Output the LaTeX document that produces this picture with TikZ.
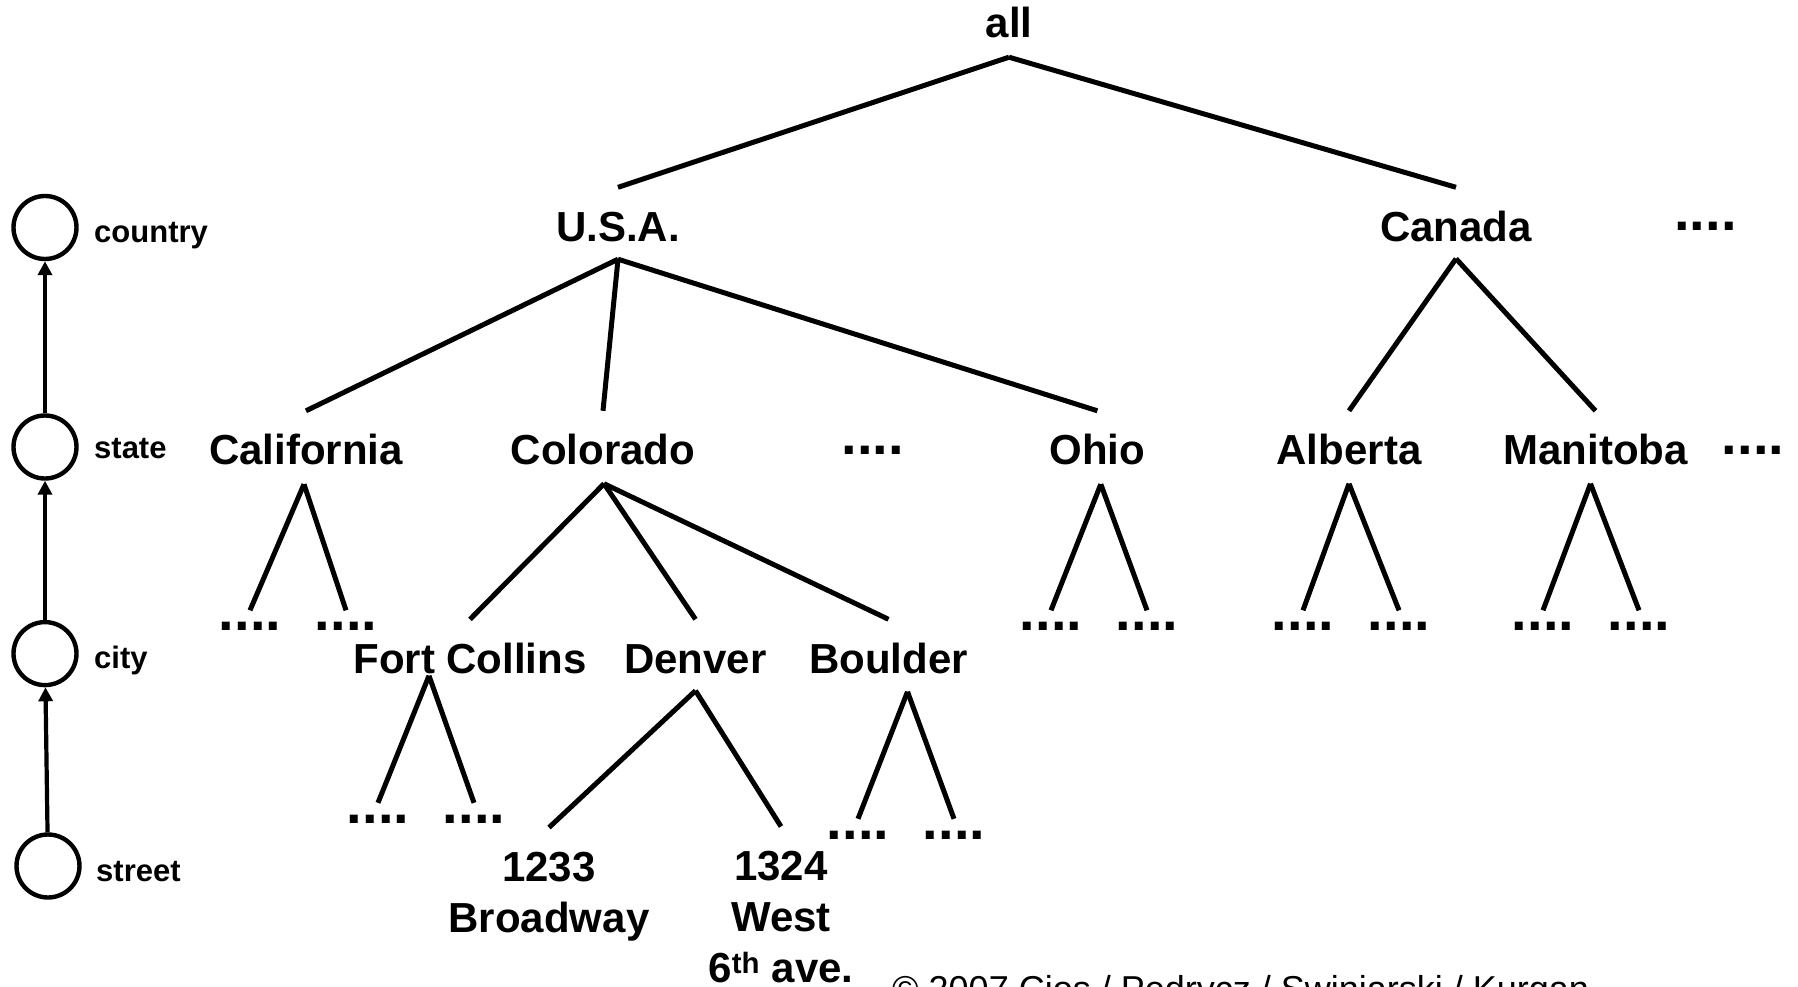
\documentclass[tikz,border=0pt]{standalone}
\usepackage{fontspec}
\setmainfont{Liberation Sans}
\usetikzlibrary{arrows.meta}

\newcommand{\lblfont}{\fontsize{42}{51}\selectfont\bfseries}
\newcommand{\tagfont}{\fontsize{31}{36}\selectfont\bfseries}
\newcommand{\dotfont}{\fontsize{56}{60}\selectfont\bfseries}
\newcommand{\notefont}{\fontsize{36}{40}\selectfont}

\begin{document}
\begin{tikzpicture}[x=1pt,y=-1pt,
  lbl/.style={font=\lblfont, inner sep=0pt, text height=30pt, text depth=0pt},
  addr/.style={font=\lblfont, inner sep=0pt, text height=30pt, anchor=north},
  more/.style={font=\dotfont, inner sep=0pt, text height=8pt, text depth=0pt},
  tag/.style={font=\tagfont, inner sep=0pt, anchor=base west},
  lvl/.style={draw, circle, line width=4.4pt, minimum size=63pt, inner sep=0pt},
  up/.style={line width=4.2pt, -{Triangle[width=14pt,length=14pt]}},
  tree/.style={line width=5pt}]

\useasboundingbox (0,0) rectangle (1798,987);
\clip (0,0) rectangle (1798,987);

% ---- concept hierarchy on the left
\node[lvl] (country) at (45,227.5) {};
\node[lvl] (state)   at (45,447) {};
\node[lvl] (city)    at (45,653.6) {};
\node[lvl] (street)  at (48,866) {};
\node[tag] (tcountry) at (94,242) {country};
\node[tag] (tstate)   at (94,458.5) {state};
\node[tag] (tcity)    at (94,668) {city};
\node[tag] (tstreet)  at (96,881.5) {street};
\draw[up] (state) -- (country);
\draw[up] (city) -- (state);
\draw[up] (street) -- (city);

% ---- root and countries
\node[lbl] (all) at (1009,23) {all};
\node[lbl] (usa) at (618,226) {U.S.A.};
\node[lbl] (can) at (1456,226) {Canada};
\node[more] (m0) at (1705.5,226.7) {....};

% ---- states / provinces
\node[lbl] (cal)  at (306,449.5) {California};
\node[lbl] (col)  at (603,449.5) {Colorado};
\node[more] (m1)  at (872.6,450) {....};
\node[lbl] (ohio) at (1097.4,449.5) {Ohio};
\node[lbl] (alb)  at (1349,449.5) {Alberta};
\node[lbl] (man)  at (1595.5,449.5) {Manitoba};
\node[more] (m2)  at (1753,450.5) {....};

% ---- cities
\node[lbl] (fc)  at (470,658) {Fort Collins};
\node[lbl] (den) at (695.5,658) {Denver};
\node[lbl] (bou) at (888.5,658) {Boulder};
\node[more] (c1) at (250,626.5) {....};
\node[more] (c2) at (346,626.5) {....};
\node[more] (c3) at (1051,626.5) {....};
\node[more] (c4) at (1147,626.5) {....};
\node[more] (c5) at (1303,626.5) {....};
\node[more] (c6) at (1399,626.5) {....};
\node[more] (c7) at (1543,626.5) {....};
\node[more] (c8) at (1639,626.5) {....};

% ---- streets
\node[more] (s1) at (378,819) {....};
\node[more] (s2) at (474,819) {....};
\node[more] (s3) at (858,835) {....};
\node[more] (s4) at (954,835) {....};
\node[addr] (a1) at (549,851) {\begin{tabular}[t]{@{}c@{}}1233\\Broadway\end{tabular}};
\node[addr] (a2) at (781,850) {\begin{tabular}[t]{@{}c@{}}1324\\West\\6\textsuperscript{th} ave.\end{tabular}};

% ---- branching points below each parent
\coordinate (all-a)  at ([yshift=-19pt]all.south);
\coordinate (usa-a)  at ([yshift=-18pt]usa.south);
\coordinate (can-a)  at ([yshift=-17.5pt]can.south);
\coordinate (cal-a)  at ([xshift=-2pt,yshift=-19.5pt]cal.south);
\coordinate (col-a)  at ([xshift=1pt,yshift=-19pt]col.south);
\coordinate (ohio-a) at ([xshift=3.4pt,yshift=-19.5pt]ohio.south);
\coordinate (alb-a)  at ([yshift=-19pt]alb.south);
\coordinate (man-a)  at ([xshift=-5pt,yshift=-19pt]man.south);
\coordinate (fc-a)   at ([xshift=-41pt,yshift=-2.5pt]fc.south);
\coordinate (den-a)  at ([yshift=-17.5pt]den.south);
\coordinate (bou-a)  at ([xshift=19pt,yshift=-18.5pt]bou.south);

% ---- tree edges
\foreach \p/\c in {all/usa, all/can,
                   usa/cal, usa/col, usa/ohio,
                   can/alb, can/man,
                   col/fc, col/den, col/bou,
                   den/a1, den/a2}
  \draw[tree] (\p-a) -- ([yshift=23.5pt]\c.north);
\foreach \p/\c in {cal/c1, cal/c2, ohio/c3, ohio/c4,
                   alb/c5, alb/c6, man/c7, man/c8,
                   fc/s1, fc/s2, bou/s3, bou/s4}
  \draw[tree] (\p-a) -- ([yshift=12pt]\c.north);

% ---- credit line
\node[font=\notefont, inner sep=0pt, anchor=base west] (credit) at (892,1001)
  {\textcopyright{} 2007 Cios / Pedrycz / Swiniarski / Kurgan};
\end{tikzpicture}
\end{document}
